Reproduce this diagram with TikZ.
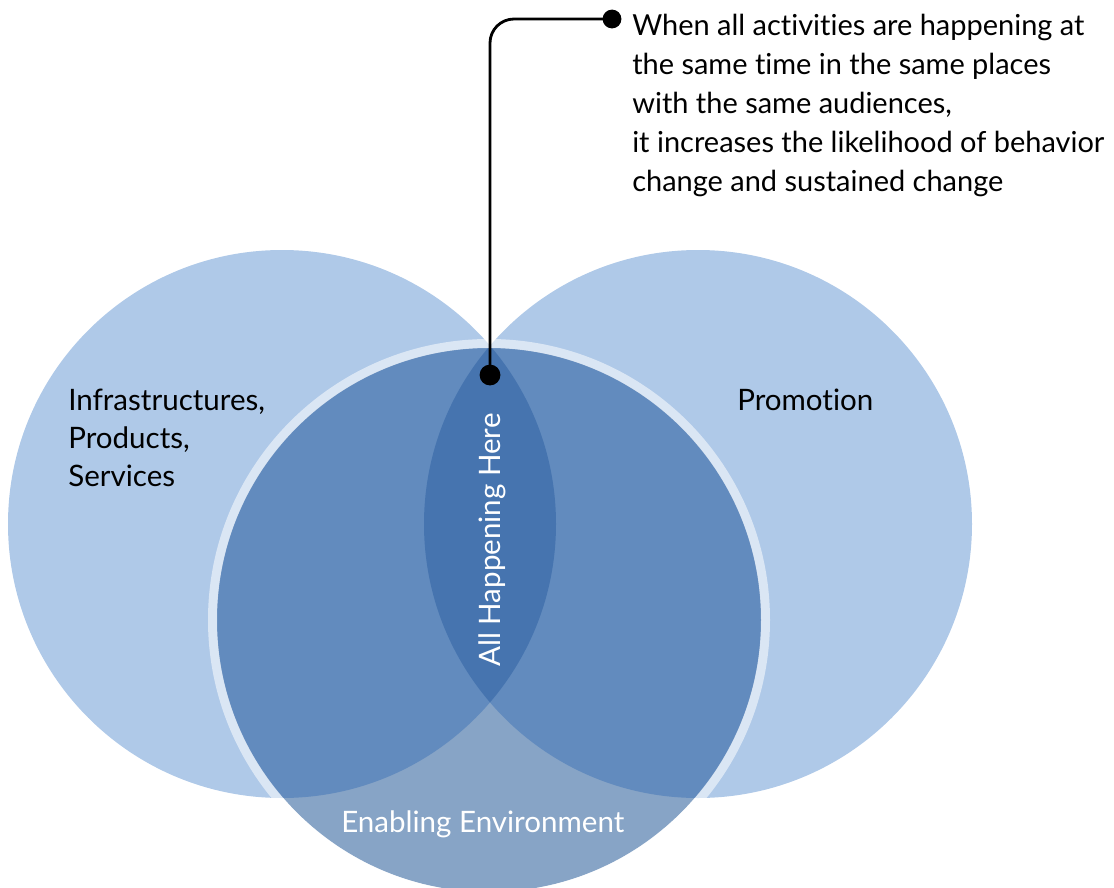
\documentclass[tikz,border=0pt]{standalone}
\usepackage{fontspec}
\setmainfont{Lato}[Ligatures=NoCommon]
\usepackage{xcolor}

\definecolor{paleblue}{HTML}{AFC9E8}
\definecolor{greyblue}{HTML}{87A4C6}
\definecolor{midblue}{HTML}{628BBE}
\definecolor{deepblue}{HTML}{4674AF}

\tikzset{
    areatext/.style={font=\fontsize{21}{27}\selectfont, align=left, inner sep=0pt},
    notetext/.style={font=\fontsize{20.6}{27.73}\selectfont, align=left, inner sep=0pt},
    dot/.style={circle, fill=black, inner sep=0pt, minimum size=0.47cm},
    leader/.style={line width=2pt, rounded corners=0.6cm}
}

\begin{document}
\begin{tikzpicture}[x=0.025cm, y=-0.025cm]
    \useasboundingbox (0,0) rectangle (1114,888);

    % the three circles
    \fill[paleblue] (282,524) circle (274);
    \fill[paleblue] (698,524) circle (274);
    \fill[greyblue] (489,620) circle (272);
    \begin{scope}
        \clip (489,620) circle (272);
        \fill[midblue] (282,524) circle (274);
        \fill[midblue] (698,524) circle (274);
        \clip (282,524) circle (274);
        \fill[deepblue] (698,524) circle (274);
    \end{scope}
    \draw[white, opacity=0.55, line width=6.4pt] (489,620) circle (276.5);

    % base of the last line
    \node[areatext, anchor=base west] (infra) at (68,486) {Infrastructures,\\Products,\\Services};
    \node[areatext, anchor=base west] (promo) at (737,410) {Promotion};
    \node[areatext, anchor=base west, text=white] (enable) at (341,832) {Enabling Environment};
    \node[areatext, anchor=base west, text=white, rotate=90] (here) at (500,667) {All Happening Here};

    \node[dot, minimum size=0.52cm] (hubdot) at (490,375) {};
    \node[dot] (notedot) at (612,19) {};
    \node[notetext, anchor=base west] (note) at (632,191) {When all activities are happening at\\the same time in the same places\\with the same audiences,\\it increases the likelihood of behavior\\change and sustained change};
    \draw[leader] (hubdot.center) |- (notedot.center);
\end{tikzpicture}
\end{document}
